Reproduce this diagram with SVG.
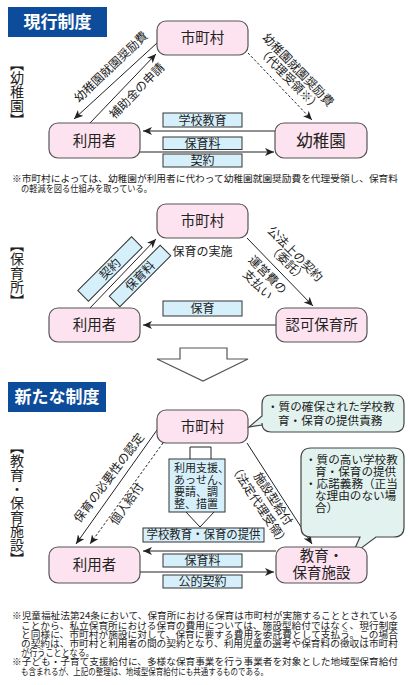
<svg xmlns="http://www.w3.org/2000/svg" width="410" height="685" viewBox="0 0 410 685">
<style>
text{font-family:"Noto Sans CJK JP","Noto Sans CJK SC",sans-serif;fill:#222}
.node{fill:#fde3ef;stroke:#555;stroke-width:1.2}
.lbl{fill:#d6f0fb;stroke:#333;stroke-width:1}
.call{fill:#e1f2ef;stroke:#444;stroke-width:1.2}
.ttl{fill:#0d4c9b}
.ttlt{fill:#fff;font-size:17px;font-weight:bold;text-anchor:middle}
.nt{font-size:14.5px;text-anchor:middle}
.lt{font-size:12px;text-anchor:middle}
.st{font-size:11.6px}
.ln{stroke:#222;stroke-width:1;fill:none}
.dash{stroke-dasharray:2.5 2}
.vt{font-size:14px;writing-mode:vertical-rl}
.note{font-size:9.3px}
.arrowshape{fill:#fff;stroke:#555;stroke-width:1.2}
</style>
<defs>
<marker id="ah" markerUnits="userSpaceOnUse" markerWidth="10" markerHeight="8" refX="9" refY="4" orient="auto"><path d="M0,0 L9,4 L0,8 L2.5,4 Z" fill="#222"/></marker>
</defs>

<!-- Section 1 -->
<g id="title-current"><rect class="ttl" x="8" y="7" width="99" height="30"/><text class="ttlt" x="57.5" y="28">現行制度</text></g>
<g id="label-kindergarten"><text class="vt" x="17" y="57">【幼稚園】</text></g>

<g id="s1-connectors">
<line class="ln" x1="157" y1="43" x2="74" y2="119" marker-end="url(#ah)"/>
<line class="ln" x1="90" y1="123" x2="156" y2="54" marker-end="url(#ah)"/>
<line class="ln dash" x1="248" y1="53" x2="312" y2="120" marker-end="url(#ah)"/>
<line class="ln" x1="275" y1="131" x2="143" y2="131" marker-end="url(#ah)"/>
<line class="ln" x1="140" y1="152" x2="274" y2="152" marker-end="url(#ah)"/>
<text class="lt" transform="translate(111,67) rotate(-43.5)" y="4">幼稚園就園奨励費</text>
<text class="lt" transform="translate(137,91) rotate(-45.5)" y="4">補助金の申請</text>
<text class="lt" transform="translate(298,70) rotate(46)" y="4">幼稚園就園奨励費</text>
<text class="lt" transform="translate(289,79) rotate(46)" y="4">（代理受領※）</text>
</g>

<g id="s1-city"><rect class="node" x="157" y="21" width="91" height="34" rx="9"/><text class="nt" x="202.5" y="43">市町村</text></g>
<g id="s1-user"><rect class="node" x="49" y="123" width="91" height="35" rx="9"/><text class="nt" x="94.5" y="146">利用者</text></g>
<g id="s1-kinder"><rect class="node" x="275" y="123" width="92" height="35" rx="9"/><text class="nt" style="font-size:16.5px" x="321" y="146.5">幼稚園</text></g>
<g id="s1-l-school"><rect class="lbl" x="163" y="113" width="79" height="14"/><text class="lt" x="202.5" y="124.5">学校教育</text></g>
<g id="s1-l-fee"><rect class="lbl" x="163" y="137" width="79" height="12.5"/><text class="lt" x="202.5" y="147.8">保育料</text></g>
<g id="s1-l-contract"><rect class="lbl" x="163" y="154" width="79" height="13"/><text class="lt" x="202.5" y="165">契約</text></g>

<g id="s1-note">
<text class="note"><tspan x="12" y="182" textLength="386" lengthAdjust="spacingAndGlyphs">※市町村によっては、幼稚園が利用者に代わって幼稚園就園奨励費を代理受領し、保育料</tspan><tspan x="21" y="191.5" textLength="131" lengthAdjust="spacingAndGlyphs">の軽減を図る仕組みを取っている。</tspan></text>
</g>

<!-- Section 2 -->
<g id="label-nursery"><text class="vt" x="17" y="238">【保育所】</text></g>
<g id="s2-connectors">
<line class="ln" x1="90" y1="308" x2="156" y2="239" marker-end="url(#ah)"/>
<line class="ln" x1="247" y1="238" x2="313" y2="306" marker-end="url(#ah)"/>
<line class="ln" x1="276" y1="325" x2="143" y2="325" marker-end="url(#ah)"/>
<text class="lt" x="202.5" y="256">保育の実施</text>
<text class="lt" transform="translate(295,254) rotate(45)" y="4">公法上の契約</text>
<text class="lt" transform="translate(287,263) rotate(45)" y="4">（委託）</text>
<text class="lt" transform="translate(267.5,275) rotate(45)" y="4">運営費の</text>
<text class="lt" transform="translate(257.5,285) rotate(45)" y="4">支払い</text>
</g>
<g id="s2-l-contract" transform="translate(110,269) rotate(-45)"><rect class="lbl" x="-38" y="-7.5" width="76" height="15"/><text class="lt" y="4.3">契約</text></g>
<g id="s2-l-fee" transform="translate(140,276) rotate(-45)"><rect class="lbl" x="-36" y="-7.5" width="72" height="15"/><text class="lt" y="4.3">保育料</text></g>
<g id="s2-city"><rect class="node" x="157" y="204" width="91" height="34" rx="9"/><text class="nt" x="202.5" y="226">市町村</text></g>
<g id="s2-user"><rect class="node" x="49" y="308" width="91" height="34" rx="9"/><text class="nt" x="94.5" y="330">利用者</text></g>
<g id="s2-nursery"><rect class="node" x="276" y="308" width="91" height="34" rx="9"/><text class="nt" x="321.5" y="330">認可保育所</text></g>
<g id="s2-l-care"><rect class="lbl" x="163" y="301" width="79" height="15"/><text class="lt" x="202.5" y="312.8">保育</text></g>

<!-- transition arrow -->
<g id="transition-arrow"><polygon class="arrowshape" points="180,348 227,348 227,359 248,359 203,381 157,359 180,359"/></g>

<!-- Section 3 -->
<g id="title-new"><rect class="ttl" x="8" y="382" width="98" height="30"/><text class="ttlt" x="57" y="403">新たな制度</text></g>
<g id="label-facility"><text class="vt" x="17" y="440">【教育・保育施設】</text></g>

<g id="s3-connectors">
<line class="ln" x1="157" y1="430" x2="76" y2="544" marker-end="url(#ah)"/>
<line class="ln dash" x1="163" y1="443" x2="90" y2="544" marker-end="url(#ah)"/>
<line class="ln" x1="247" y1="443" x2="312" y2="544" marker-end="url(#ah)"/>
<line class="ln" x1="276" y1="551" x2="143" y2="551" marker-end="url(#ah)"/>
<line class="ln" x1="140" y1="572" x2="274" y2="572" marker-end="url(#ah)"/>
<text class="lt" transform="translate(109,478) rotate(-53)" y="4">保育の必要性の認定</text>
<text class="lt" transform="translate(127,504) rotate(-55)" y="4">個人給付</text>
<text class="lt" transform="translate(273,499) rotate(57)" y="4">施設型給付</text>
<text class="lt" transform="translate(259,505) rotate(57)" y="4">（法定代理受領）</text>
</g>

<g id="s3-city"><rect class="node" x="157" y="410" width="91" height="33" rx="9"/><text class="nt" x="202.5" y="431.5">市町村</text></g>
<g id="s3-callout-city"><path class="call" d="M271,395 H395 Q404,395 404,404 V423 Q404,432 395,432 H271 Q262,432 262,423 V425 L249,427 L262,416 V404 Q262,395 271,395 Z"/>
<text class="st"><tspan x="267" y="411">・質の確保された学校教</tspan><tspan x="278" y="425">育・保育の提供責務</tspan></text></g>
<g id="s3-callout-facility"><path class="call" d="M311,448 H394 Q404,448 404,458 V527 Q404,537 394,537 H376 L352,555 L360,537 H311 Q301,537 301,527 V458 Q301,448 311,448 Z"/>
<text class="st"><tspan x="305" y="464">・質の高い学校教</tspan><tspan x="315" y="476">育・保育の提供</tspan><tspan x="305" y="488">・応諾義務（正当</tspan><tspan x="315" y="500">な理由のない場</tspan><tspan x="315" y="512">合）</tspan></text></g>

<g id="s3-support">
<path class="ln" d="M190,459 V447 H211 V459 M186,512 L200,527 L214,512"/>
<rect class="lbl" x="169" y="459" width="56" height="53"/>
<text style="font-size:11px"><tspan x="174" y="472">利用支援、</tspan><tspan x="174" y="484">あっせん、</tspan><tspan x="174" y="496">要請、調</tspan><tspan x="174" y="507.5">整、措置</tspan></text>
</g>
<g id="s3-l-provide"><rect class="lbl" x="143" y="528" width="121" height="14"/><text class="lt" x="203.5" y="539.3" textLength="114" lengthAdjust="spacingAndGlyphs">学校教育・保育の提供</text></g>
<g id="s3-l-fee"><rect class="lbl" x="163" y="554" width="79" height="13"/><text class="lt" x="202.5" y="565">保育料</text></g>
<g id="s3-l-contract"><rect class="lbl" x="163" y="575" width="79" height="13"/><text class="lt" x="202.5" y="586">公的契約</text></g>
<g id="s3-user"><rect class="node" x="49" y="547" width="91" height="36" rx="9"/><text class="nt" x="94.5" y="570">利用者</text></g>
<g id="s3-facility"><rect class="node" x="276" y="547" width="91" height="36" rx="9"/><text class="nt"><tspan x="321.5" y="561">教育・</tspan><tspan x="321.5" y="578">保育施設</tspan></text></g>

<g id="s3-note">
<text class="note"><tspan x="12" y="618.5" textLength="386" lengthAdjust="spacingAndGlyphs">※児童福祉法第24条において、保育所における保育は市町村が実施することとされている</tspan><tspan x="21" y="628.5" textLength="377" lengthAdjust="spacingAndGlyphs">ことから、私立保育所における保育の費用については、施設型給付ではなく、現行制度</tspan><tspan x="21" y="637.5" textLength="377" lengthAdjust="spacingAndGlyphs">と同様に、市町村が施設に対して、保育に要する費用を委託費として支払う。この場合</tspan><tspan x="21" y="646.5" textLength="377" lengthAdjust="spacingAndGlyphs">の契約は、市町村と利用者の間の契約となり、利用児童の選考や保育料の徴収は市町村</tspan><tspan x="21" y="655.5" textLength="73" lengthAdjust="spacingAndGlyphs">が行うこととなる。</tspan></text>
<text class="note"><tspan x="12" y="665" textLength="386" lengthAdjust="spacingAndGlyphs">※子ども・子育て支援給付に、多様な保育事業を行う事業者を対象とした地域型保育給付</tspan><tspan x="21" y="674.5" textLength="247" lengthAdjust="spacingAndGlyphs">も含まれるが、上記の整理は、地域型保育給付にも共通するものである。</tspan></text>
</g>
</svg>
